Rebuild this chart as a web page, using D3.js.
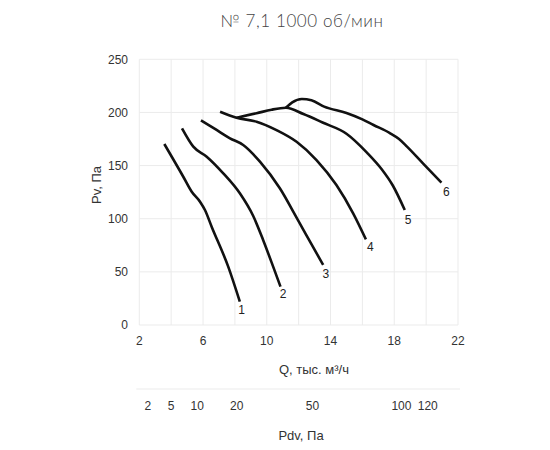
<!DOCTYPE html>
<html>
<head>
<meta charset="utf-8">
<script src="https://cdn.jsdelivr.net/npm/d3@7"></script>
<style>
  html, body { margin: 0; padding: 0; background: #fff; }
  svg { display: block; }
</style>
</head>
<body>
<svg id="chart" width="550" height="450"></svg>
<script>
// ---- data ----
const titleText = "№ 7,1  1000 об/мин";
const xTicks = [2, 6, 10, 14, 18, 22];
const xGrid = [2, 4, 6, 8, 10, 12, 14, 16, 18, 20, 22];
const yTicks = [0, 50, 100, 150, 200, 250];

const q1 = [3.57, 4.76, 5.29, 5.81, 6.12, 6.54, 7.58, 8.31];
const p1 = [170.3, 139.5, 125.4, 116, 108.2, 92.5, 54.9, 21.9];
const q2 = [4.68, 5.39, 6.23, 7.27, 8.31, 9.15, 9.77, 10.4, 10.86];
const p2 = [185, 167.8, 158.4, 142.7, 123.9, 102.5, 80, 54.9, 36.1];
const q3 = [5.87, 6.85, 7.69, 8.52, 9.57, 10.82, 11.87, 12.9, 13.54];
const p3 = [192.6, 183.5, 175.7, 169.4, 153.7, 128.6, 101, 73.5, 56.5];
const q4 = [7.07, 8.1, 9.36, 10.61, 11.87, 13.12, 14.37, 15.42, 16.22];
const p4 = [200.7, 195, 191.3, 183.4, 172.4, 155.2, 131.7, 105.1, 80.6];
const q5 = [8.1, 9.36, 10.3, 11.2, 12.3, 13.5, 15.0, 16.3, 17.2, 17.9, 18.66];
const p5 = [195, 199.2, 202.6, 204.4, 198.5, 190.5, 180, 162, 146.8, 131.5, 108.2];
const q6 = [11.2, 11.6, 12.2, 12.8, 13.6, 15.0, 16.0, 16.7, 17.7, 18.3, 18.8, 19.8, 20.96];
const p6 = [204.4, 209.5, 212.6, 211.5, 205.5, 199.5, 193.5, 188.2, 180.8, 175, 167.8, 152.1, 133.9];

const curveNames = ["1", "2", "3", "4", "5", "6"];
const labelQ = [8.42, 11.03, 13.7, 16.5, 18.87, 21.27];
const labelP = [14, 29.8, 48.6, 73.7, 98.8, 125.5];

const pdvTicks = [2, 5, 10, 20, 50, 100, 120];
const pdvAtQ = [2.53, 3.99, 5.64, 8.11, 12.87, 18.45, 20.1];

const xTitle = "Q, тыс. м³/ч";
const yTitle = "Pv, Па";
const pdvTitle = "Pdv, Па";

// ---- drawing ----
const svg = d3.select("#chart");
const x = d3.scaleLinear().domain([2, 22]).range([139.3, 458]);
const y = d3.scaleLinear().domain([0, 250]).range([325, 59.3]);
const pdvScale = d3.scaleLinear().domain(pdvTicks).range(pdvAtQ.map(q => x(q)));

const gridColor = "#ebebeb";
const textColor = "#333";
const axisFont = "'Liberation Sans', Arial, sans-serif";

// gridlines
svg.append("g").selectAll("line").data(xGrid).join("line")
  .attr("x1", d => x(d)).attr("x2", d => x(d))
  .attr("y1", y(250)).attr("y2", y(0))
  .attr("stroke", gridColor).attr("stroke-width", 1);
svg.append("g").selectAll("line").data(yTicks).join("line")
  .attr("x1", x(2)).attr("x2", x(22))
  .attr("y1", d => y(d)).attr("y2", d => y(d))
  .attr("stroke", gridColor).attr("stroke-width", 1);

// title
svg.append("text")
  .attr("x", 302).attr("y", 27)
  .attr("text-anchor", "middle")
  .attr("font-family", "Lato, 'Open Sans', sans-serif")
  .attr("font-weight", 300)
  .attr("font-size", 17)
  .attr("letter-spacing", 0.6)
  .attr("fill", "#444")
  .text(titleText);

// y tick labels
svg.append("g").selectAll("text").data(yTicks).join("text")
  .attr("x", 128).attr("y", d => y(d))
  .attr("dy", "0.35em")
  .attr("text-anchor", "end")
  .attr("font-family", axisFont).attr("font-size", 12)
  .attr("fill", textColor)
  .text(d => d);

// x tick labels
svg.append("g").selectAll("text").data(xTicks).join("text")
  .attr("x", d => x(d)).attr("y", 345)
  .attr("text-anchor", "middle")
  .attr("font-family", axisFont).attr("font-size", 12)
  .attr("fill", textColor)
  .text(d => d);

// axis titles
svg.append("text")
  .attr("x", 314).attr("y", 374)
  .attr("text-anchor", "middle")
  .attr("font-family", axisFont).attr("font-size", 13)
  .attr("fill", textColor)
  .text(xTitle);

svg.append("text")
  .attr("transform", "translate(101,185) rotate(-90)")
  .attr("text-anchor", "middle")
  .attr("font-family", axisFont).attr("font-size", 13)
  .attr("fill", textColor)
  .text(yTitle);

// Pdv axis
svg.append("line")
  .attr("x1", x(2) - 3).attr("x2", x(22) + 2)
  .attr("y1", 389).attr("y2", 389)
  .attr("stroke", gridColor).attr("stroke-width", 1);
svg.append("g").selectAll("text").data(pdvTicks).join("text")
  .attr("x", d => pdvScale(d)).attr("y", 410)
  .attr("text-anchor", "middle")
  .attr("font-family", axisFont).attr("font-size", 12)
  .attr("fill", textColor)
  .text(d => d);
svg.append("text")
  .attr("x", 301).attr("y", 440)
  .attr("text-anchor", "middle")
  .attr("font-family", axisFont).attr("font-size", 13)
  .attr("fill", textColor)
  .text(pdvTitle);

// curves
const series = [[q1, p1], [q2, p2], [q3, p3], [q4, p4], [q5, p5], [q6, p6]];
const line = d3.line()
  .x(d => x(d[0])).y(d => y(d[1]))
  .curve(d3.curveMonotoneX);
svg.append("g").selectAll("path").data(series).join("path")
  .attr("d", s => line(s[0].map((q, i) => [q, s[1][i]])))
  .attr("fill", "none")
  .attr("stroke", "#111")
  .attr("stroke-width", 2.6)
  .attr("stroke-linecap", "butt")
  .attr("stroke-linejoin", "round");

// curve labels
svg.append("g").selectAll("text").data(curveNames).join("text")
  .attr("x", (d, i) => x(labelQ[i])).attr("y", (d, i) => y(labelP[i]))
  .attr("dy", "0.35em")
  .attr("text-anchor", "middle")
  .attr("font-family", axisFont).attr("font-size", 12)
  .attr("fill", "#222")
  .text(d => d);
</script>
</body>
</html>
